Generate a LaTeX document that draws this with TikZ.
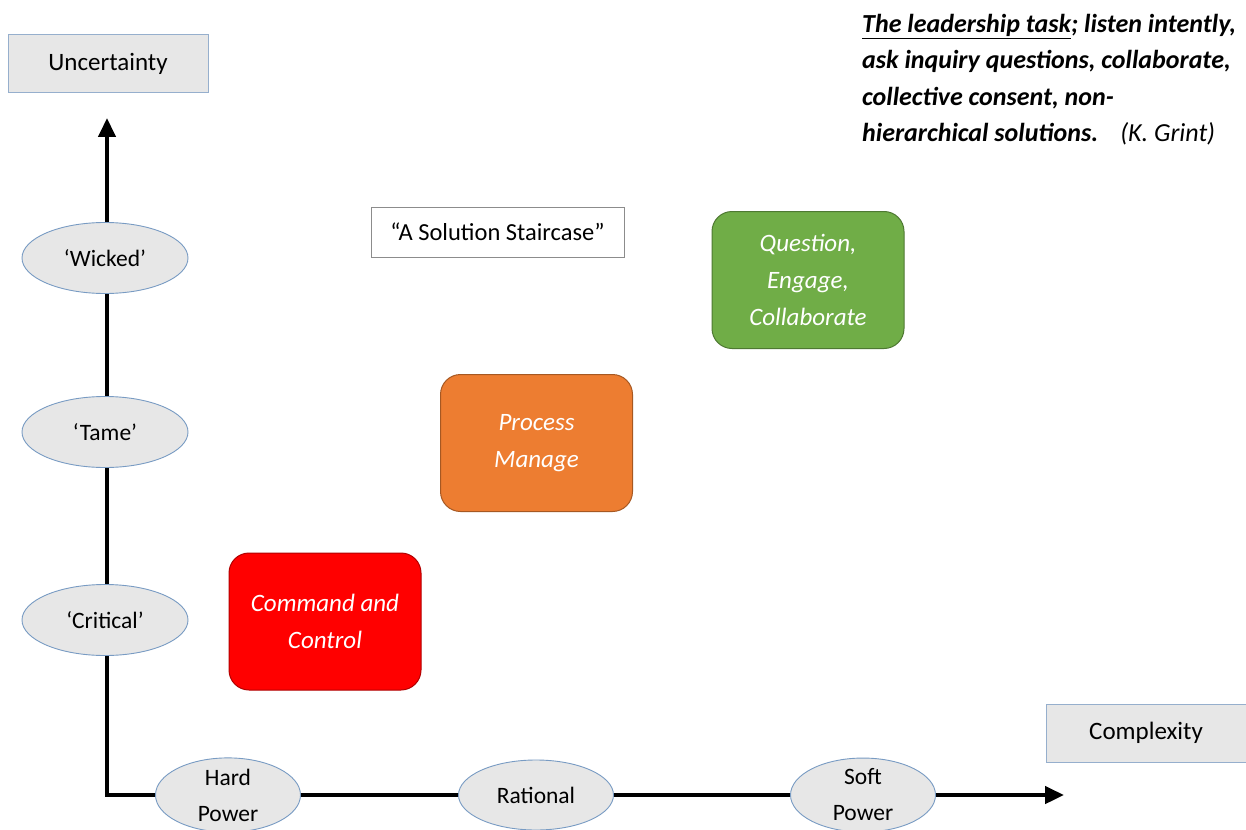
\documentclass[tikz,border=0pt]{standalone}
\usepackage{fontspec}
\setmainfont{Carlito}
\usetikzlibrary{shapes.geometric,arrows.meta}
\definecolor{boxgray}{RGB}{231,231,231}
\definecolor{boxedge}{RGB}{150,175,205}
\definecolor{elledge}{RGB}{120,155,195}
\definecolor{cred}{RGB}{255,0,0}
\definecolor{corange}{RGB}{237,125,49}
\definecolor{cgreen}{RGB}{112,173,71}
\tikzset{
  axislbl/.style={draw=boxedge,line width=1pt,fill=boxgray,minimum width=200pt,minimum height=58pt,inner sep=0pt,font=\fontsize{25}{30}\selectfont},
  tick/.style={ellipse,draw=elledge,line width=0.9pt,fill=boxgray,minimum width=166pt,minimum height=71pt,inner sep=0pt,align=center,font=\fontsize{23.5}{36}\selectfont},
  htick/.style={tick,minimum width=145pt,minimum height=70pt},
  stair/.style={rounded corners=20pt,line width=1pt,minimum width=192pt,minimum height=137pt,inner sep=0pt,align=center,text=white,font=\fontsize{25}{37}\selectfont\itshape},
  axis/.style={line width=4.5pt,{Triangle[length=19pt,width=17pt]}-{Triangle[length=19pt,width=17pt]}}
}
\begin{document}
\begin{tikzpicture}[x=1pt,y=-1pt]
\useasboundingbox (0,0) rectangle (1246,829);
\fill[white] (0,0) rectangle (1246,829);
% axes
\coordinate (ytip) at (107,118);
\coordinate (origin) at (107,795);
\coordinate (xtip) at (1064,795);
\draw[axis] (ytip) -- (origin) -- (xtip);
% axis labels
\node[axislbl] (unc) at (108,64) {Uncertainty};
\node[axislbl] (cpx) at (1146,733) {Complexity};
% vertical ticks
\node[tick] (wicked) at (105,258) {‘Wicked’};
\node[tick] (tame) at (105,432) {‘Tame’};
\node[tick] (critical) at (105,620) {‘Critical’};
% horizontal ticks
\node[htick] (hard) at (228,795) {Hard\\Power};
\node[htick,minimum width=155pt] (rational) at (536,795) {Rational};
\node[htick] (soft) at (863,795) {Soft\\Power};
% staircase
\node[draw=black!45,line width=1pt,fill=white,minimum width=253pt,minimum height=50pt,inner sep=0pt,font=\fontsize{24.5}{30}\selectfont] (title) at (497.5,232) {“A Solution Staircase”};
\node[stair,fill=cred,draw=cred!70!black] (cc) at (325,621.5) {Command and\\Control};
\node[stair,fill=corange,draw=corange!70!black] (pm) at (536.5,443) {Process\\Manage};
\node[stair,fill=cgreen,draw=cgreen!70!black] (qec) at (808,280) {Question,\\Engage,\\Collaborate};
% quote
\node[anchor=north west,inner sep=0pt,align=left,font=\fontsize{26}{36.5}\selectfont\bfseries\itshape] (quote) at (862,14)
 {\underline{The leadership task}; listen intently,\\ask inquiry questions, collaborate,\\collective consent, non-\\hierarchical solutions.\hspace{22pt}{\mdseries(K. Grint)}};
\end{tikzpicture}
\end{document}
